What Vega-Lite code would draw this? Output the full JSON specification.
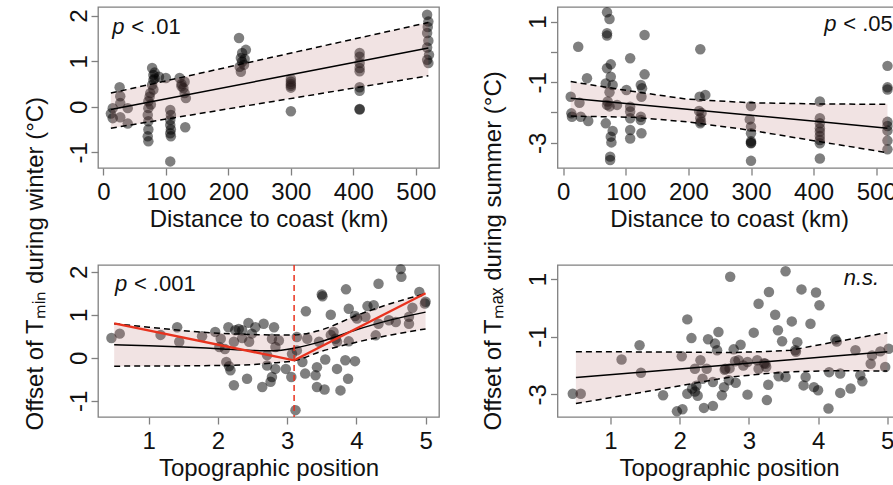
{
  "$schema": "https://vega.github.io/schema/vega-lite/v6.json",
  "background": "white",
  "padding": {"left": 22, "top": 6, "right": 0, "bottom": 0},
  "config": {
    "font": "Liberation Sans",
    "view": {"stroke": "#808080", "strokeWidth": 1.3},
    "axis": {"grid": false, "domain": false, "tickColor": "#808080", "tickSize": 7, "tickWidth": 1.3, "labelFontSize": 24, "labelColor": "#111", "labelFont": "Liberation Sans", "titleFont": "Liberation Sans", "titleFontSize": 24, "titleFontWeight": "normal", "titleColor": "#111", "labelOverlap": false, "labelFlush": false, "labelPadding": 5},
    "text": {"font": "Liberation Sans"}
  },
  "datasets": {
    "tl_pts": [
      {"x":12,"y":-0.15},{"x":15,"y":-0.03},{"x":15,"y":-0.25},{"x":26,"y":0.43},{"x":27,"y":0.23},{"x":27,"y":0.08},{"x":27,"y":-0.23},{"x":39,"y":-0.03},{"x":39,"y":-0.37},
      {"x":72,"y":0.12},{"x":72,"y":-0.03},{"x":71,"y":-0.18},{"x":72,"y":-0.32},{"x":72,"y":-0.5},{"x":71,"y":-0.65},{"x":72,"y":-0.76},{"x":75,"y":0.3},{"x":78,"y":0.48},{"x":78,"y":0.85},{"x":80,"y":0.7},{"x":80,"y":0.59},{"x":82,"y":0.75},{"x":82,"y":0.62},{"x":80,"y":0.38},{"x":76,"y":0.05},{"x":74,"y":0.22},
      {"x":89,"y":0.66},{"x":100,"y":0.63},
      {"x":107,"y":-0.07},{"x":108,"y":-0.18},{"x":107,"y":-0.29},{"x":107,"y":-0.4},{"x":108,"y":-0.5},{"x":107,"y":-0.58},{"x":108,"y":-0.65},{"x":107,"y":-1.2},{"x":131,"y":-0.45},
      {"x":122,"y":0.63},{"x":125,"y":0.5},{"x":128,"y":0.41},{"x":130,"y":0.3},{"x":132,"y":0.19},{"x":125,"y":0.45},{"x":130,"y":0.55},
      {"x":217,"y":1.51},{"x":222,"y":1.18},{"x":228,"y":1.25},{"x":220,"y":1.07},{"x":222,"y":0.99},{"x":225,"y":0.92},{"x":218,"y":0.88},{"x":220,"y":0.77},{"x":226,"y":1.05},
      {"x":300,"y":0.61},{"x":300,"y":0.55},{"x":300,"y":0.5},{"x":300,"y":0.46},{"x":300,"y":0.42},{"x":300,"y":-0.1},
      {"x":410,"y":1.18},{"x":410,"y":1.1},{"x":410,"y":0.96},{"x":410,"y":0.85},{"x":410,"y":0.78},{"x":410,"y":0.43},{"x":410,"y":0.35},{"x":410,"y":-0.05},{"x":410,"y":-0.06},
      {"x":518,"y":2.02},{"x":520,"y":1.87},{"x":519,"y":1.75},{"x":518,"y":1.62},{"x":520,"y":1.45},{"x":518,"y":1.3},{"x":521,"y":1.14},{"x":518,"y":1.03},{"x":520,"y":0.96}
    ],
    "tl_fit": [
      {"x":12,"fit":-0.06,"lo":-0.47,"hi":0.3},
      {"x":266,"fit":0.615,"lo":0.105,"hi":1.075},
      {"x":520,"fit":1.29,"lo":0.68,"hi":1.85}
    ],
    "tl_txt": [{"x":14,"y":1.59,"a":"p","b":"< .01"}],
    "tr_pts": [
      {"x":12,"y":-1.48},{"x":13,"y":-2.03},{"x":14,"y":-2.14},{"x":24,"y":0.17},{"x":26,"y":-1.68},{"x":28,"y":-2.14},{"x":38,"y":-0.87},{"x":40,"y":-2.28},
      {"x":70,"y":1.31},{"x":74,"y":1.09},{"x":70,"y":0.62},{"x":70,"y":0.54},{"x":70,"y":-0.54},{"x":76,"y":-0.41},{"x":68,"y":-1.04},{"x":76,"y":-0.82},{"x":79,"y":-1.09},{"x":74,"y":-1.33},{"x":71,"y":-1.64},{"x":70,"y":-1.75},{"x":74,"y":-1.8},{"x":86,"y":-1.75},{"x":68,"y":-2.36},{"x":79,"y":-2.61},{"x":76,"y":-2.8},{"x":77,"y":-2.99},{"x":75,"y":-3.46},{"x":75,"y":-3.57},
      {"x":107,"y":-0.21},{"x":101,"y":-1.26},{"x":130,"y":0.56},{"x":130,"y":-0.74},{"x":124,"y":-1.09},{"x":126,"y":-1.2},{"x":125,"y":-1.48},{"x":107,"y":-1.81},{"x":107,"y":-1.97},{"x":107,"y":-2.19},{"x":107,"y":-2.58},{"x":107,"y":-2.86},{"x":124,"y":-2.14},{"x":124,"y":-2.25},{"x":125,"y":-2.69},
      {"x":219,"y":0.09},{"x":218,"y":-1.48},{"x":227,"y":-1.42},{"x":217,"y":-1.95},{"x":219,"y":-2.19},{"x":219,"y":-2.36},{"x":221,"y":-2.02},{"x":220,"y":-2.3},
      {"x":300,"y":-1.79},{"x":298,"y":-2.23},{"x":300,"y":-2.47},{"x":300,"y":-2.69},{"x":300,"y":-2.95},{"x":300,"y":-3.0},{"x":300,"y":-3.02},{"x":300,"y":-3.6},
      {"x":410,"y":-1.64},{"x":410,"y":-2.19},{"x":410,"y":-2.36},{"x":410,"y":-2.52},{"x":410,"y":-2.64},{"x":410,"y":-2.78},{"x":410,"y":-2.91},{"x":410,"y":-3.02},{"x":410,"y":-3.52},
      {"x":518,"y":-0.46},{"x":518,"y":-1.17},{"x":518,"y":-1.24},{"x":518,"y":-2.31},{"x":518,"y":-2.45},{"x":518,"y":-2.6},{"x":518,"y":-2.93},{"x":518,"y":-3.22}
    ],
    "tr_fit": [
      {"x":12,"fit":-1.53,"lo":-2.12,"hi":-0.98},
      {"x":113,"fit":-1.73,"lo":-2.16,"hi":-1.31},
      {"x":198,"fit":-1.89,"lo":-2.31,"hi":-1.56},
      {"x":300,"fit":-2.09,"lo":-2.59,"hi":-1.68},
      {"x":411,"fit":-2.31,"lo":-2.97,"hi":-1.72},
      {"x":518,"fit":-2.52,"lo":-3.33,"hi":-1.73}
    ],
    "tr_txt": [{"x":417,"y":0.7,"a":"p","b":"< .05"}],
    "bl_pts": [
      {"x":0.46,"y":0.46},{"x":0.58,"y":0.56},{"x":1.17,"y":0.53},{"x":1.41,"y":0.71},{"x":1.44,"y":0.37},{"x":1.77,"y":0.5},{"x":1.96,"y":0.6},{"x":2.04,"y":0.44},{"x":2.02,"y":0.25},{"x":2.1,"y":0.2},{"x":2.15,"y":0.71},{"x":2.25,"y":0.64},{"x":2.3,"y":0.67},{"x":2.44,"y":0.81},{"x":2.35,"y":0.46},{"x":2.23,"y":0.37},{"x":2.12,"y":-0.1},{"x":2.18,"y":-0.29},{"x":2.16,"y":-0.2},{"x":2.23,"y":-0.64},{"x":2.42,"y":-0.49},{"x":2.64,"y":-0.68},{"x":2.54,"y":0.71},{"x":2.66,"y":0.79},{"x":2.49,"y":0.56},{"x":2.45,"y":0.37},{"x":2.35,"y":0.64},
      {"x":2.81,"y":0.71},{"x":2.78,"y":0.44},{"x":2.88,"y":0.4},{"x":2.83,"y":0.25},{"x":2.71,"y":0.06},{"x":2.71,"y":-0.18},{"x":2.83,"y":-0.26},{"x":2.78,"y":-0.45},{"x":2.76,"y":-0.56},{"x":2.98,"y":-0.26},{"x":3.06,"y":-0.45},{"x":3.12,"y":-1.22},{"x":3.14,"y":0.48},{"x":3.14,"y":0.17},{"x":3.07,"y":0.09},{"x":3.22,"y":-0.1},{"x":3.29,"y":0.44},{"x":3.27,"y":1.08},{"x":3.26,"y":-0.37},{"x":3.41,"y":-0.41},{"x":3.43,"y":-0.22},{"x":3.43,"y":-0.68},{"x":3.46,"y":0.37},{"x":3.5,"y":1.47},{"x":3.51,"y":1.43},{"x":3.54,"y":-0.74},{"x":3.55,"y":-0.04},{"x":3.63,"y":1.0},{"x":3.67,"y":0.6},{"x":3.7,"y":0.44},{"x":3.72,"y":-0.26},{"x":3.77,"y":-0.76},{"x":3.84,"y":-0.06},{"x":3.85,"y":1.59},{"x":3.89,"y":1.14},{"x":3.88,"y":-0.49},{"x":3.98,"y":-0.08},{"x":3.98,"y":0.97},{"x":4.01,"y":0.91},{"x":4.16,"y":1.2},{"x":4.25,"y":1.22},{"x":4.28,"y":0.52},{"x":4.32,"y":1.72},{"x":4.13,"y":0.95},{"x":4.32,"y":0.79},{"x":4.47,"y":0.87},{"x":4.57,"y":0.83},{"x":4.64,"y":2.06},{"x":4.65,"y":1.88},{"x":4.76,"y":0.79},{"x":4.81,"y":1.16},{"x":4.76,"y":0.95},{"x":4.91,"y":1.53},{"x":4.99,"y":1.26},{"x":5.0,"y":1.3},{"x":3.63,"y":0.53},{"x":3.72,"y":0.37},{"x":3.89,"y":0.38}
    ],
    "bl_fit": [
      {"x":0.5,"fit":0.3,"lo":-0.2,"hi":0.79},
      {"x":1.0,"fit":0.28,"lo":-0.19,"hi":0.71},
      {"x":1.5,"fit":0.25,"lo":-0.19,"hi":0.63},
      {"x":2.0,"fit":0.21,"lo":-0.18,"hi":0.57},
      {"x":2.5,"fit":0.17,"lo":-0.16,"hi":0.54},
      {"x":2.8,"fit":0.16,"lo":-0.12,"hi":0.53},
      {"x":3.1,"fit":0.22,"lo":-0.07,"hi":0.53},
      {"x":3.5,"fit":0.38,"lo":0.15,"hi":0.65},
      {"x":4.0,"fit":0.65,"lo":0.36,"hi":0.98},
      {"x":4.5,"fit":0.88,"lo":0.53,"hi":1.26},
      {"x":5.0,"fit":1.06,"lo":0.67,"hi":1.49}
    ],
    "bl_seg": [{"x":0.5,"y":0.8},{"x":3.1,"y":-0.06},{"x":5.0,"y":1.5}],
    "bl_brk": [{"x":3.1}],
    "bl_txt": [{"x":0.51,"y":1.54,"a":"p","b":"< .001"}],
    "br_pts": [
      {"x":0.455,"y":-2.98},{"x":0.57,"y":-2.98},{"x":1.16,"y":-1.79},{"x":1.42,"y":-1.3},{"x":1.44,"y":-2.25},{"x":1.76,"y":-3.03},{"x":1.96,"y":-3.59},{"x":2.04,"y":-3.52},{"x":2.03,"y":-1.68},{"x":2.11,"y":-0.4},{"x":2.17,"y":-1.05},{"x":2.11,"y":-2.98},{"x":2.18,"y":-2.8},{"x":2.22,"y":-2.9},{"x":2.26,"y":-3.05},{"x":2.24,"y":-2.7},{"x":2.3,"y":-1.82},{"x":2.22,"y":-2.11},{"x":2.35,"y":-3.47},{"x":2.48,"y":-3.4},{"x":2.41,"y":-1.09},{"x":2.51,"y":-1.24},{"x":2.54,"y":-1.47},{"x":2.56,"y":-0.84},{"x":2.39,"y":-2.11},{"x":2.48,"y":-2.57},{"x":2.61,"y":-3.03},{"x":2.66,"y":-2.11},{"x":2.64,"y":-2.75},{"x":2.73,"y":1.08},{"x":2.33,"y":-2.46},
      {"x":3.53,"y":1.27},{"x":3.29,"y":0.55},{"x":3.14,"y":0.14},{"x":3.76,"y":0.64},{"x":3.97,"y":0.53},{"x":4.02,"y":0.09},{"x":3.38,"y":-0.24},{"x":3.62,"y":-0.47},{"x":3.89,"y":-0.55},{"x":3.42,"y":-0.78},{"x":3.07,"y":-0.86},{"x":3.48,"y":-1.16},{"x":3.7,"y":-1.19},{"x":2.88,"y":-1.28},{"x":2.78,"y":-1.44},{"x":3.67,"y":-1.47},{"x":4.25,"y":-1.09},{"x":4.27,"y":-1.17},{"x":4.54,"y":-1.47},{"x":4.78,"y":-1.65},{"x":4.9,"y":-1.51},{"x":5.02,"y":-1.42},{"x":4.97,"y":-2.05},{"x":4.76,"y":-1.94},{"x":3.12,"y":-1.82},{"x":3.24,"y":-1.94},{"x":2.85,"y":-1.82},{"x":2.98,"y":-1.88},{"x":4.16,"y":-2.23},{"x":4.32,"y":-2.28},{"x":4.61,"y":-2.34},{"x":4.64,"y":-2.55},{"x":3.43,"y":-2.37},{"x":3.53,"y":-2.4},{"x":3.28,"y":-2.67},{"x":3.79,"y":-2.69},{"x":3.94,"y":-2.75},{"x":4.0,"y":-2.86},{"x":4.32,"y":-2.95},{"x":4.47,"y":-2.8},{"x":2.98,"y":-3.01},{"x":3.26,"y":-3.2},{"x":4.15,"y":-3.49},{"x":2.71,"y":-2.51},{"x":2.81,"y":-2.6},{"x":3.82,"y":-2.4},{"x":3.14,"y":-2.11},{"x":2.92,"y":-2.0},{"x":2.65,"y":-2.15},{"x":2.72,"y":-2.1},{"x":2.8,"y":-1.85},{"x":3.22,"y":-1.92},{"x":3.25,"y":-2.05},{"x":3.68,"y":-1.52}
    ],
    "br_fit": [
      {"x":0.5,"fit":-2.42,"lo":-3.32,"hi":-1.52},
      {"x":1.65,"fit":-2.19,"lo":-2.85,"hi":-1.53},
      {"x":2.73,"fit":-1.97,"lo":-2.4,"hi":-1.55},
      {"x":3.2,"fit":-1.88,"lo":-2.29,"hi":-1.52},
      {"x":3.6,"fit":-1.8,"lo":-2.22,"hi":-1.47},
      {"x":4.2,"fit":-1.68,"lo":-2.18,"hi":-1.2},
      {"x":5.0,"fit":-1.52,"lo":-2.19,"hi":-0.86}
    ],
    "br_txt": [{"x":4.37,"y":0.8,"a":"n.s."}]
  },
  "columns": 2,
  "bounds": "flush",
  "align": "each",
  "spacing": {"row": 97, "column": 118.5},
  "concat": [
    {
      "width": 341, "height": 161,
      "layer": [
        {"data": {"name": "tl_pts"}, "mark": {"type": "circle", "size": 110, "color": "#000", "opacity": 0.5},
         "encoding": {
           "x": {"field": "x", "type": "quantitative", "scale": {"domain": [-8.6, 537], "nice": false, "zero": false},
                 "axis": {"values": [0,100,200,300,400,500], "labelExpr": "'' + datum.value", "title": "Distance to coast (km)", "titleY": 39, "titleBaseline": "top"}},
           "y": {"field": "y", "type": "quantitative", "scale": {"domain": [-1.345, 2.191], "nice": false, "zero": false},
                 "axis": {"values": [-1,0,1,2], "labelExpr": "'' + datum.value", "labelAngle": -90, "labelAlign": "center", "labelBaseline": "alphabetic", "title": "Offset of Tₘᵢₙ during winter (°C)", "titleX": -56, "titleY": 423, "titleAngle": 270, "titleAlign": "left", "titleBaseline": "alphabetic"}}}},
        {"data": {"name": "tl_fit"}, "mark": {"type": "area", "color": "#b97373", "opacity": 0.2},
         "encoding": {"x": {"field": "x", "type": "quantitative"}, "y": {"field": "lo", "type": "quantitative"}, "y2": {"field": "hi"}}},
        {"data": {"name": "tl_fit"}, "mark": {"type": "line", "color": "#000", "strokeWidth": 1.5},
         "encoding": {"x": {"field": "x", "type": "quantitative"}, "y": {"field": "fit", "type": "quantitative"}}},
        {"data": {"name": "tl_fit"}, "mark": {"type": "line", "color": "#000", "strokeWidth": 1.5, "strokeDash": [6, 4]},
         "encoding": {"x": {"field": "x", "type": "quantitative"}, "y": {"field": "lo", "type": "quantitative"}}},
        {"data": {"name": "tl_fit"}, "mark": {"type": "line", "color": "#000", "strokeWidth": 1.5, "strokeDash": [6, 4]},
         "encoding": {"x": {"field": "x", "type": "quantitative"}, "y": {"field": "hi", "type": "quantitative"}}},
        {"data": {"name": "tl_txt"}, "mark": {"type": "text", "fontSize": 22, "fontStyle": "italic", "align": "left", "baseline": "alphabetic", "color": "#111"},
         "encoding": {"x": {"field": "x", "type": "quantitative"}, "y": {"field": "y", "type": "quantitative"}, "text": {"field": "a"}}},
        {"data": {"name": "tl_txt"}, "mark": {"type": "text", "fontSize": 22, "align": "left", "baseline": "alphabetic", "dx": 19, "color": "#111"},
         "encoding": {"x": {"field": "x", "type": "quantitative"}, "y": {"field": "y", "type": "quantitative"}, "text": {"field": "b"}}}
      ]
    },
    {
      "width": 343, "height": 161,
      "layer": [
        {"data": {"name": "tr_pts"}, "mark": {"type": "circle", "size": 110, "color": "#000", "opacity": 0.5},
         "encoding": {
           "x": {"field": "x", "type": "quantitative", "scale": {"domain": [-9.1, 538.8], "nice": false, "zero": false},
                 "axis": {"values": [0,100,200,300,400,500], "labelExpr": "'' + datum.value", "title": "Distance to coast (km)", "titleY": 39, "titleBaseline": "top"}},
           "y": {"field": "y", "type": "quantitative", "scale": {"domain": [-3.836, 1.486], "nice": false, "zero": false},
                 "axis": {"values": [-3,-2,-1,0,1], "labelExpr": "datum.value % 2 == 0 ? '' : '' + datum.value", "labelAngle": -90, "labelAlign": "center", "labelBaseline": "alphabetic", "title": "Offset of Tₘₐₓ during summer (°C)", "titleX": -57.5, "titleY": 423, "titleAngle": 270, "titleAlign": "left", "titleBaseline": "alphabetic"}}}},
        {"data": {"name": "tr_fit"}, "mark": {"type": "area", "color": "#b97373", "opacity": 0.2},
         "encoding": {"x": {"field": "x", "type": "quantitative"}, "y": {"field": "lo", "type": "quantitative"}, "y2": {"field": "hi"}}},
        {"data": {"name": "tr_fit"}, "mark": {"type": "line", "color": "#000", "strokeWidth": 1.5},
         "encoding": {"x": {"field": "x", "type": "quantitative"}, "y": {"field": "fit", "type": "quantitative"}}},
        {"data": {"name": "tr_fit"}, "mark": {"type": "line", "color": "#000", "strokeWidth": 1.5, "strokeDash": [6, 4]},
         "encoding": {"x": {"field": "x", "type": "quantitative"}, "y": {"field": "lo", "type": "quantitative"}}},
        {"data": {"name": "tr_fit"}, "mark": {"type": "line", "color": "#000", "strokeWidth": 1.5, "strokeDash": [6, 4]},
         "encoding": {"x": {"field": "x", "type": "quantitative"}, "y": {"field": "hi", "type": "quantitative"}}},
        {"data": {"name": "tr_txt"}, "mark": {"type": "text", "fontSize": 22, "fontStyle": "italic", "align": "left", "baseline": "alphabetic", "color": "#111"},
         "encoding": {"x": {"field": "x", "type": "quantitative"}, "y": {"field": "y", "type": "quantitative"}, "text": {"field": "a"}}},
        {"data": {"name": "tr_txt"}, "mark": {"type": "text", "fontSize": 22, "align": "left", "baseline": "alphabetic", "dx": 19, "color": "#111"},
         "encoding": {"x": {"field": "x", "type": "quantitative"}, "y": {"field": "y", "type": "quantitative"}, "text": {"field": "b"}}}
      ]
    },
    {
      "width": 341, "height": 152,
      "layer": [
        {"data": {"name": "bl_pts"}, "mark": {"type": "circle", "size": 110, "color": "#000", "opacity": 0.5},
         "encoding": {
           "x": {"field": "x", "type": "quantitative", "scale": {"domain": [0.266, 5.194], "nice": false, "zero": false},
                 "axis": {"values": [1,2,3,4,5], "labelExpr": "'' + datum.value", "title": "Topographic position", "titleY": 39, "titleBaseline": "top"}},
           "y": {"field": "y", "type": "quantitative", "scale": {"domain": [-1.379, 2.156], "nice": false, "zero": false},
                 "axis": {"values": [-1,0,1,2], "labelExpr": "'' + datum.value", "labelAngle": -90, "labelAlign": "center", "labelBaseline": "alphabetic", "title": null}}}},
        {"data": {"name": "bl_fit"}, "mark": {"type": "area", "color": "#b97373", "opacity": 0.2, "interpolate": "monotone"},
         "encoding": {"x": {"field": "x", "type": "quantitative"}, "y": {"field": "lo", "type": "quantitative"}, "y2": {"field": "hi"}}},
        {"data": {"name": "bl_fit"}, "mark": {"type": "line", "color": "#000", "strokeWidth": 1.5, "interpolate": "monotone"},
         "encoding": {"x": {"field": "x", "type": "quantitative"}, "y": {"field": "fit", "type": "quantitative"}}},
        {"data": {"name": "bl_fit"}, "mark": {"type": "line", "color": "#000", "strokeWidth": 1.5, "strokeDash": [6, 4], "interpolate": "monotone"},
         "encoding": {"x": {"field": "x", "type": "quantitative"}, "y": {"field": "lo", "type": "quantitative"}}},
        {"data": {"name": "bl_fit"}, "mark": {"type": "line", "color": "#000", "strokeWidth": 1.5, "strokeDash": [6, 4], "interpolate": "monotone"},
         "encoding": {"x": {"field": "x", "type": "quantitative"}, "y": {"field": "hi", "type": "quantitative"}}},
        {"data": {"name": "bl_brk"}, "mark": {"type": "rule", "color": "#e8321e", "strokeWidth": 1.5, "strokeDash": [6, 4]},
         "encoding": {"x": {"field": "x", "type": "quantitative"}}},
        {"data": {"name": "bl_seg"}, "mark": {"type": "line", "color": "#e8321e", "strokeWidth": 2.3},
         "encoding": {"x": {"field": "x", "type": "quantitative"}, "y": {"field": "y", "type": "quantitative"}}},
        {"data": {"name": "bl_txt"}, "mark": {"type": "text", "fontSize": 22, "fontStyle": "italic", "align": "left", "baseline": "alphabetic", "color": "#111"},
         "encoding": {"x": {"field": "x", "type": "quantitative"}, "y": {"field": "y", "type": "quantitative"}, "text": {"field": "a"}}},
        {"data": {"name": "bl_txt"}, "mark": {"type": "text", "fontSize": 22, "align": "left", "baseline": "alphabetic", "dx": 19, "color": "#111"},
         "encoding": {"x": {"field": "x", "type": "quantitative"}, "y": {"field": "y", "type": "quantitative"}, "text": {"field": "b"}}}
      ]
    },
    {
      "width": 343, "height": 152,
      "layer": [
        {"data": {"name": "br_pts"}, "mark": {"type": "circle", "size": 110, "color": "#000", "opacity": 0.5},
         "encoding": {
           "x": {"field": "x", "type": "quantitative", "scale": {"domain": [0.234, 5.191], "nice": false, "zero": false},
                 "axis": {"values": [1,2,3,4,5], "labelExpr": "'' + datum.value", "title": "Topographic position", "titleY": 39, "titleBaseline": "top"}},
           "y": {"field": "y", "type": "quantitative", "scale": {"domain": [-3.786, 1.486], "nice": false, "zero": false},
                 "axis": {"values": [-3,-2,-1,0,1], "labelExpr": "datum.value % 2 == 0 ? '' : '' + datum.value", "labelAngle": -90, "labelAlign": "center", "labelBaseline": "alphabetic", "title": null}}}},
        {"data": {"name": "br_fit"}, "mark": {"type": "area", "color": "#b97373", "opacity": 0.2},
         "encoding": {"x": {"field": "x", "type": "quantitative"}, "y": {"field": "lo", "type": "quantitative"}, "y2": {"field": "hi"}}},
        {"data": {"name": "br_fit"}, "mark": {"type": "line", "color": "#000", "strokeWidth": 1.5},
         "encoding": {"x": {"field": "x", "type": "quantitative"}, "y": {"field": "fit", "type": "quantitative"}}},
        {"data": {"name": "br_fit"}, "mark": {"type": "line", "color": "#000", "strokeWidth": 1.5, "strokeDash": [6, 4]},
         "encoding": {"x": {"field": "x", "type": "quantitative"}, "y": {"field": "lo", "type": "quantitative"}}},
        {"data": {"name": "br_fit"}, "mark": {"type": "line", "color": "#000", "strokeWidth": 1.5, "strokeDash": [6, 4]},
         "encoding": {"x": {"field": "x", "type": "quantitative"}, "y": {"field": "hi", "type": "quantitative"}}},
        {"data": {"name": "br_txt"}, "mark": {"type": "text", "fontSize": 22, "fontStyle": "italic", "align": "left", "baseline": "alphabetic", "color": "#111"},
         "encoding": {"x": {"field": "x", "type": "quantitative"}, "y": {"field": "y", "type": "quantitative"}, "text": {"field": "a"}}}
      ]
    }
  ]
}
